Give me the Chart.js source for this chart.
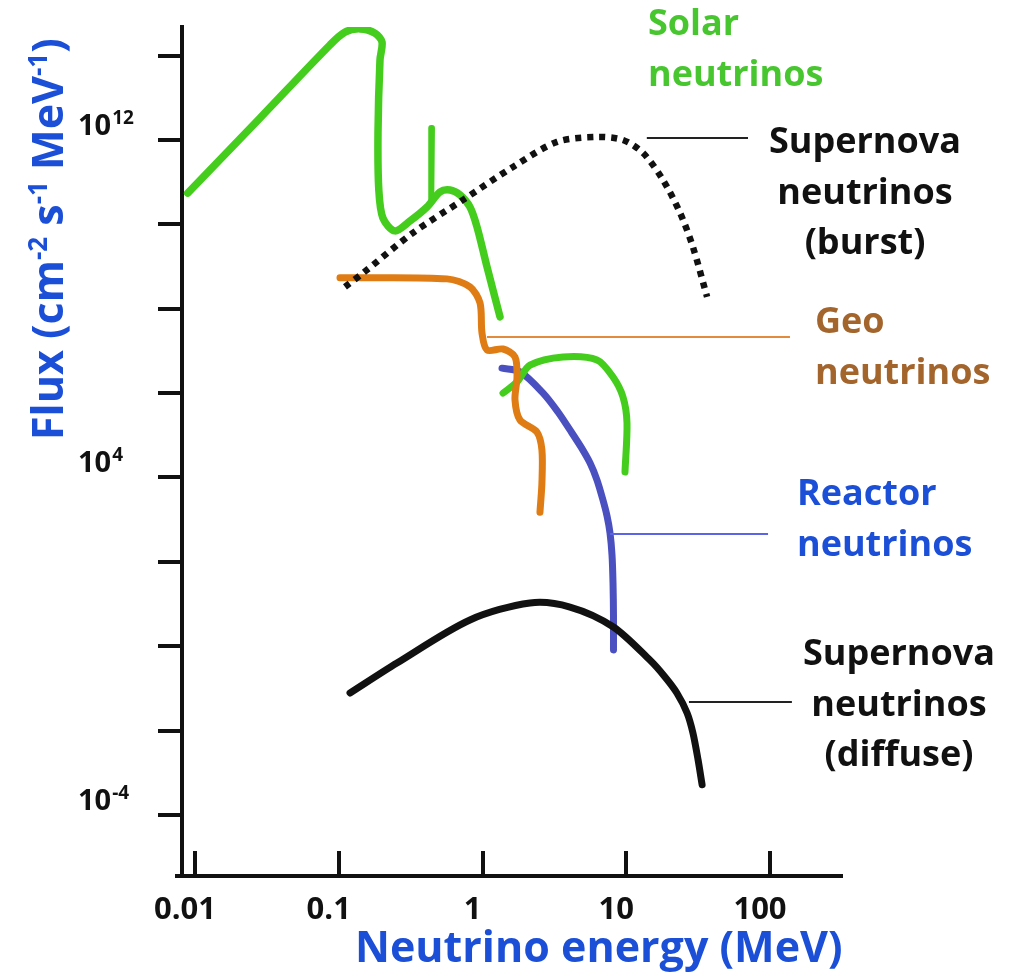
<!DOCTYPE html>
<html>
<head>
<meta charset="utf-8">
<script src="https://cdn.jsdelivr.net/npm/chart.js@4.4.1/dist/chart.umd.min.js"></script>
<style>
  html, body { margin: 0; padding: 0; background: #fff; }
  #wrap { width: 1026px; height: 976px; position: relative; }
</style>
</head>
<body>
<div id="wrap"><canvas id="flux-chart"></canvas></div>
<script>
// energies in MeV, fluxes in cm^-2 s^-1 MeV^-1
const solarEnergy = [0.0089, 0.0283, 0.087, 0.1105, 0.1405, 0.1787, 0.2, 0.1936, 0.1875, 0.19, 0.203, 0.246, 0.313, 0.411, 0.506, 0.594, 0.697, 0.818, 0.916, 1.075, 1.324];
const solarFlux = [5.5e10, 3.3e12, 1.8e14, 3.6e14, 4.3e14, 3.4e14, 2.1e14, 7.9e13, 1.47e12, 6.5e10, 1.4e10, 7.0e9, 1.2e10, 2.58e10, 5.85e10, 6.5e10, 4.97e10, 2.58e10, 8.7e9, 9.8e8, 6.4e7];

const be7Energy = [0.445, 0.44];
const be7Flux = [1.92e12, 3.8e10];

const b8Energy = [1.389, 1.738, 2.14, 3.63, 6.26, 8.09, 9.49, 10.12, 9.8];
const b8Flux = [1.0e6, 1.84e6, 4.6e6, 7.2e6, 6.1e6, 2.4e6, 8.1e5, 1.96e5, 1.35e4];

const geoEnergy = [0.102, 0.566, 0.818, 0.961, 0.992, 1.075, 1.389, 1.683, 1.738, 1.683, 1.823, 2.39, 2.59, 2.59, 2.51];
const geoFlux = [5.4e8, 5.1e8, 3.3e8, 1.37e8, 2.66e7, 1.05e7, 1.11e7, 7.2e6, 2.4e6, 6.9e5, 2.3e5, 1.2e5, 4.5e4, 7.4e3, 1.5e3];

const reactorEnergy = [1.367, 1.823, 2.64, 3.35, 4.06, 4.84, 5.6, 6.26, 6.89, 7.35, 7.71, 7.96, 8.09, 8.15, 8.15];
const reactorFlux = [3.9e6, 3.2e6, 1.0e6, 3.57e5, 1.34e5, 5.3e4, 2.2e4, 8.7e3, 2.9e3, 1.22e3, 484, 146, 31.6, 5.5, 0.82];

const burstEnergy = [0.1105, 0.1475, 0.3285, 0.732, 1.63, 3.3, 6.26, 9.49, 13.1, 18.0, 23.7, 29.1, 36.5];
const burstFlux = [3.3e8, 7.0e8, 6.3e9, 3.8e10, 2.3e11, 9.0e11, 1.18e12, 1.0e12, 4.9e11, 1.13e11, 1.86e10, 2.9e9, 1.9e8];

const diffuseEnergy = [0.1198, 0.254, 0.818, 2.14, 4.06, 8.09, 14.6, 18.6, 22.5, 26.5, 29.1, 31.6, 33.7];
const diffuseFlux = [0.078, 0.40, 4.2, 10.6, 8.5, 2.9, 0.47, 0.187, 0.078, 0.0262, 0.0088, 0.00202, 5.2e-4];

// label leader lines: [start energy, end energy] at one flux level
const solarLeader = { e: [0.203, 9.8], f: 5.3e14 };
const burstLeader = { e: [13.9, 70.3], f: 1.11e12 };
const geoLeader = { e: [1.075, 137.7], f: 2.14e7 };
const reactorLeader = { e: [7.71, 96.9], f: 458 };
const diffuseLeader = { e: [27.3, 142], f: 0.048 };

const xTickValues = [0.01, 0.1, 1, 10, 100];
const yTickExponents = [-4, -2, 0, 2, 4, 6, 8, 10, 12, 14];
const yLabelExponents = [12, 4, -4];

const GREEN = '#44cd1d';
const ORANGE = '#e07c14';
const REACTOR = '#4b50c0';
const BLUE_TEXT = '#1b4fd8';
const INK = '#111';
const FONT = '"Open Sans", sans-serif';

const pts = (xs, ys) => xs.map((x, i) => ({ x: x, y: ys[i] }));
const leader = (l) => l.e.map(x => ({ x: x, y: l.f }));

function curve(data, color, width, extra) {
  return Object.assign({
    data: data,
    borderColor: color,
    borderWidth: width,
    pointRadius: 0,
    tension: 0.3,
    borderCapStyle: 'round',
    borderJoinStyle: 'round',
    fill: false
  }, extra || {});
}

// tick marks on the energy axis point up into the plot
const innerTicks = {
  id: 'innerTicks',
  afterDraw(chart) {
    const ctx = chart.ctx;
    const xs = chart.scales.x;
    const bottom = chart.chartArea.bottom;
    ctx.save();
    ctx.strokeStyle = INK;
    ctx.lineWidth = 4;
    ctx.beginPath();
    xs.ticks.forEach(t => {
      const px = Math.round(xs.getPixelForValue(t.value));
      ctx.moveTo(px, bottom);
      ctx.lineTo(px, bottom - 25);
    });
    ctx.moveTo(chart.chartArea.left - 7, bottom);
    ctx.lineTo(chart.chartArea.left, bottom);
    ctx.stroke();
    ctx.restore();
  }
};

// powers-of-ten labels, axis titles and series names
const textLayer = {
  id: 'textLayer',
  afterDraw(chart) {
    const ctx = chart.ctx;
    const ys = chart.scales.y;
    ctx.save();
    ctx.textBaseline = 'alphabetic';

    ctx.fillStyle = INK;
    yLabelExponents.forEach(e => {
      const py = ys.getPixelForValue(Math.pow(10, e));
      ctx.textAlign = 'left';
      ctx.font = 'bold 29px ' + FONT;
      ctx.fillText('10', 78, py - 5);
      const w = ctx.measureText('10').width;
      ctx.font = 'bold 19px ' + FONT;
      ctx.fillText(String(e), 78 + w + 1, py - 16);
    });

    // y title, rotated, with superscripts
    ctx.save();
    ctx.translate(63, 440);
    ctx.rotate(-Math.PI / 2);
    ctx.fillStyle = BLUE_TEXT;
    ctx.textAlign = 'left';
    const parts = [['Flux (cm', 0], ['-2', 1], [' s', 0], ['-1', 1], [' MeV', 0], ['-1', 1], [')', 0]];
    let cx = 0;
    parts.forEach(p => {
      ctx.font = p[1] ? 'bold 26px ' + FONT : 'bold 43px ' + FONT;
      ctx.fillText(p[0], cx, p[1] ? -16 : 0);
      cx += ctx.measureText(p[0]).width;
    });
    ctx.restore();

    ctx.fillStyle = BLUE_TEXT;
    ctx.font = 'bold 43px ' + FONT;
    ctx.textAlign = 'left';
    ctx.fillText('Neutrino energy (MeV)', 355, 962);

    const names = [
      { lines: ['Solar', 'neutrinos'], color: '#48c630', x: 648, y: 35, align: 'left' },
      { lines: ['Supernova', 'neutrinos', '(burst)'], color: INK, x: 865, y: 153, align: 'center' },
      { lines: ['Geo', 'neutrinos'], color: '#a3652c', x: 815, y: 333, align: 'left' },
      { lines: ['Reactor', 'neutrinos'], color: BLUE_TEXT, x: 797, y: 505, align: 'left' },
      { lines: ['Supernova', 'neutrinos', '(diffuse)'], color: INK, x: 899, y: 665, align: 'center' }
    ];
    ctx.font = 'bold 36px ' + FONT;
    names.forEach(n => {
      ctx.fillStyle = n.color;
      ctx.textAlign = n.align;
      n.lines.forEach((s, i) => ctx.fillText(s, n.x, n.y + i * 50.5));
    });
    ctx.restore();
  }
};

new Chart('flux-chart', {
  type: 'line',
  data: {
    datasets: [
      curve(leader(solarLeader), GREEN, 2, { tension: 0, borderCapStyle: 'butt' }),
      curve(leader(burstLeader), '#222', 2, { tension: 0, borderCapStyle: 'butt' }),
      curve(leader(geoLeader), '#e38b3c', 2, { tension: 0, borderCapStyle: 'butt' }),
      curve(leader(reactorLeader), '#5c64e6', 2, { tension: 0, borderCapStyle: 'butt' }),
      curve(leader(diffuseLeader), '#222', 2, { tension: 0, borderCapStyle: 'butt' }),
      curve(pts(diffuseEnergy, diffuseFlux), INK, 7, { tension: 0.3 }),
      curve(pts(burstEnergy, burstFlux), INK, 6.5, { borderDash: [6, 6], borderCapStyle: 'butt' }),
      curve(pts(geoEnergy, geoFlux), ORANGE, 7),
      curve(pts(solarEnergy, solarFlux), GREEN, 7.5),
      curve(pts(be7Energy, be7Flux), GREEN, 6, { tension: 0 }),
      curve(pts(b8Energy, b8Flux), GREEN, 7),
      curve(pts(reactorEnergy, reactorFlux), REACTOR, 7, { tension: 0.3 })
    ]
  },
  options: {
    responsive: true,
    maintainAspectRatio: false,
    animation: false,
    layout: { padding: { top: 27, right: 184, left: 0, bottom: 0 } },
    plugins: {
      legend: { display: false },
      tooltip: { enabled: false }
    },
    scales: {
      x: {
        type: 'logarithmic',
        min: Math.pow(10, -2.0904),
        max: Math.pow(10, 2.5008),
        afterBuildTicks: s => { s.ticks = xTickValues.map(v => ({ value: v })); },
        afterFit: s => { s.height = 100; },
        grid: { display: false, drawTicks: false, tickLength: 0 },
        border: { display: true, width: 4, color: INK },
        ticks: {
          color: INK,
          font: { family: FONT, size: 31, weight: 'bold' },
          padding: 16,
          labelOffset: -10,
          maxRotation: 0,
          autoSkip: false,
          callback: v => String(v)
        }
      },
      y: {
        type: 'logarithmic',
        min: Math.pow(10, -5.446),
        max: Math.pow(10, 14.678),
        afterBuildTicks: s => { s.ticks = yTickExponents.map(e => ({ value: Math.pow(10, e) })); },
        afterFit: s => { s.width = 182; },
        grid: { display: true, drawOnChartArea: false, drawTicks: true, tickLength: 24, lineWidth: 4, color: INK },
        border: { display: true, width: 4, color: INK },
        ticks: { display: false }
      }
    }
  },
  plugins: [innerTicks, textLayer]
});
</script>
</body>
</html>
